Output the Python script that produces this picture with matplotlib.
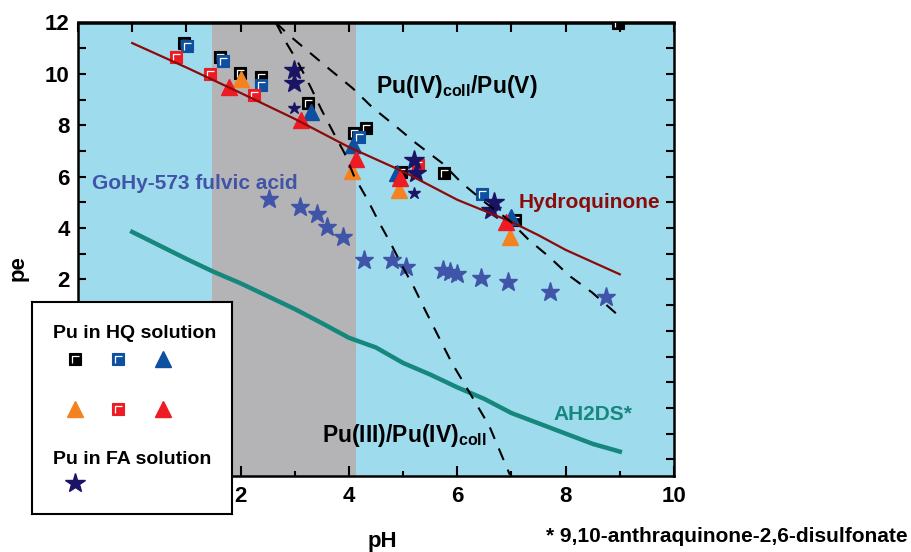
import numpy as np
import matplotlib.pyplot as plt
from matplotlib.path import Path
from matplotlib.ticker import MultipleLocator, FuncFormatter

plt.rcParams['font.family'] = ['Liberation Sans', 'DejaVu Sans']
plt.rcParams['font.weight'] = 'bold'
plt.rcParams['mathtext.fontset'] = 'custom'
plt.rcParams['mathtext.rm'] = 'Liberation Sans:bold'
plt.rcParams['mathtext.bf'] = 'Liberation Sans:bold'
plt.rcParams['mathtext.it'] = 'Liberation Sans:bold'

# --- DATA ---
# pH ranges of the background bands
blue_band = (-1.0, 10.0)
gray_band = (1.48, 4.13)

# redox lines
hq_x = [0, 1, 2, 3, 4, 5, 6, 7, 7.5, 8, 9]
hq_y = [11.2, 10.25, 9.26, 8.25, 7.15, 6.2, 5.1, 4.24, 3.72, 3.15, 2.2]

ah2ds_x = [0, 1, 1.5, 2, 2.5, 3, 3.5, 4, 4.5, 5, 5.5, 6, 6.5, 7, 7.5, 8, 8.5, 9]
ah2ds_y = [3.85, 2.8, 2.3, 1.85, 1.35, 0.85, 0.3, -0.27, -0.65, -1.25, -1.7,
           -2.2, -2.65, -3.2, -3.6, -4.0, -4.4, -4.7]

pu34_x = [2.65, 2.85, 3.07, 3.3, 3.49, 3.71, 3.92, 4.1, 4.34, 4.55, 4.77, 4.99,
          5.2, 5.42, 5.9, 6.31, 6.59, 6.97]
pu34_y = [12.0, 11.19, 10.41, 9.46, 8.62, 7.73, 6.91, 6.0, 5.12, 4.25, 3.41, 2.5,
          1.7, 0.75, -1.25, -2.7, -3.7, -5.6]

pu45_x = [2.65, 2.87, 3.27, 3.66, 4.07, 4.43, 4.87, 5.24, 5.72, 6.09, 6.53, 6.96,
          7.32, 7.69, 8.07, 8.49, 9.0]
pu45_y = [12.0, 11.55, 10.84, 10.15, 9.44, 8.7, 7.95, 7.3, 6.53, 5.74, 4.97, 4.3,
          3.54, 2.89, 2.14, 1.49, 0.55]

# Pu in HQ solution
black_sq_x = [0.95, 1.62, 1.99, 2.37, 3.25, 4.1, 4.31, 4.97, 5.76, 7.06, 8.97]
black_sq_y = [11.2, 10.65, 10.02, 9.89, 8.86, 7.69, 7.88, 6.2, 6.16, 4.31, 12.0]
blue_sq_x = [1.02, 1.67, 2.37, 4.19, 6.45]
blue_sq_y = [11.1, 10.5, 9.57, 7.56, 5.31]
blue_tri_x = [3.3, 4.07, 4.89, 7.0]
blue_tri_y = [8.5, 7.25, 6.13, 4.42]
orange_tri_x = [2.0, 4.05, 4.93, 6.98]
orange_tri_y = [9.8, 6.23, 5.48, 3.64]
red_sq_x = [0.8, 1.43, 2.25, 5.28]
red_sq_y = [10.65, 10.0, 9.18, 6.45]
red_tri_x = [1.79, 3.12, 4.13, 4.94, 6.9]
red_tri_y = [9.5, 8.2, 6.68, 5.94, 4.25]

# Pu in FA solution
fa_x = [2.99, 2.99, 5.2, 5.23, 6.67, 6.63]
fa_y = [10.15, 9.63, 6.65, 6.13, 5.03, 4.7]
fa_small_x = [2.99, 5.2]
fa_small_y = [8.68, 5.35]

# GoHy-573 fulvic acid
fulvic_x = [2.52, 3.1, 3.42, 3.6, 3.9, 4.28, 4.79, 5.06, 5.73, 5.86, 6.0, 6.43,
            6.94, 7.72, 8.74]
fulvic_y = [5.13, 4.83, 4.54, 4.06, 3.64, 2.76, 2.76, 2.5, 2.37, 2.28, 2.2, 2.07,
            1.89, 1.53, 1.31]

# --- COLOURS ---
c_blue_bg = '#9edbed'
c_gray_bg = '#b4b4b6'
c_hq = '#8c0a0a'
c_teal = '#16877d'
c_black = '#000000'
c_blue = '#0d50a0'
c_orange = '#f58220'
c_red = '#ed1c24'
c_navy = '#1b1464'
c_fulvic = '#4054a8'

# white corner mark drawn inside the squares
gamma = Path([(-0.5, -0.5), (-0.24, -0.34), (-0.24, 0.24), (0.34, 0.24)],
             [Path.MOVETO, Path.MOVETO, Path.LINETO, Path.LINETO])


def squares(ax, x, y, color, ms=8.5):
    ax.plot(x, y, 's', ms=ms, mfc=color, mec=color, mew=0.8, ls='none', zorder=4)
    ax.plot(x, y, marker=gamma, ms=ms, mfc='none', mec='white', mew=0.9,
            ls='none', zorder=4)


def triangles(ax, x, y, color, ms=12):
    ax.plot(x, y, '^', ms=ms, mfc=color, mec=color, ls='none', zorder=4)


def stars(ax, x, y, color, ms=12):
    ax.plot(x, y, '*', ms=ms, mfc=color, mec=color, ls='none', zorder=4)


fig = plt.figure(figsize=(9.12, 5.52), dpi=100)
ax = fig.add_axes([78 / 912, 1 - 476 / 552, 596 / 912, 453.5 / 552])

ax.axvspan(*blue_band, color=c_blue_bg, zorder=0, lw=0)
ax.axvspan(*gray_band, color=c_gray_bg, zorder=0, lw=0)

squares(ax, black_sq_x, black_sq_y, c_black)
squares(ax, blue_sq_x, blue_sq_y, c_blue)
squares(ax, red_sq_x, red_sq_y, c_red)
triangles(ax, blue_tri_x, blue_tri_y, c_blue)
triangles(ax, orange_tri_x, orange_tri_y, c_orange)
triangles(ax, red_tri_x, red_tri_y, c_red)
stars(ax, fa_x, fa_y, c_navy, ms=15)
stars(ax, fa_small_x, fa_small_y, c_navy, ms=9)
stars(ax, fulvic_x, fulvic_y, c_fulvic, ms=14)

ax.plot(hq_x, hq_y, color=c_hq, lw=1.6, zorder=5)
ax.plot(ah2ds_x, ah2ds_y, color=c_teal, lw=3.2, zorder=5)
ax.plot(pu34_x, pu34_y, color='black', lw=1.5, ls=(0, (6, 5)), zorder=5)
ax.plot(pu45_x, pu45_y, color='black', lw=1.5, ls=(0, (6, 5)), zorder=5)

ax.text(4.5, 9.26, r'$\mathbf{Pu(IV)_{coll}/Pu(V)}$', fontsize=16.5, color='black',
        va='baseline', zorder=6)
ax.text(3.5, -4.32, r'$\mathbf{Pu(III)/Pu(IV)_{coll}}$', fontsize=16.5, color='black',
        va='baseline', zorder=6)
ax.text(-0.74, 5.52, 'GoHy-573 fulvic acid', fontsize=15, color=c_fulvic,
        va='baseline', zorder=6)
ax.text(7.14, 4.78, 'Hydroquinone', fontsize=15, color=c_hq, va='baseline', zorder=6)
ax.text(7.77, -3.47, 'AH2DS*', fontsize=15, color=c_teal, va='baseline', zorder=6)

ax.set_xlim(-1, 10)
ax.set_ylim(-5.65, 12)
ax.xaxis.set_major_locator(MultipleLocator(2))
ax.xaxis.set_minor_locator(MultipleLocator(1))
ax.yaxis.set_major_locator(MultipleLocator(2))
ax.yaxis.set_minor_locator(MultipleLocator(1))
# labels below the legend box are covered in the original
ax.xaxis.set_major_formatter(FuncFormatter(lambda v, p: '' if v < 1 else f'{v:g}'))
ax.yaxis.set_major_formatter(FuncFormatter(lambda v, p: '' if v < 1 else f'{v:g}'))
ax.tick_params(axis='both', which='both', direction='in', width=1.5, labelsize=16)
ax.tick_params(axis='x', which='major', length=7, top=False, pad=7)
ax.tick_params(axis='x', which='minor', length=3.5, top=False)
ax.tick_params(axis='y', which='both', length=6, right=True, pad=6)
for lbl in ax.get_xticklabels() + ax.get_yticklabels():
    lbl.set_fontweight('bold')
for sp in ax.spines.values():
    sp.set_linewidth(1.8)

top = ax.secondary_xaxis('top')
top.xaxis.set_major_locator(MultipleLocator(1))
top.tick_params(direction='in', length=7, width=1.5, labeltop=False)
top.spines['top'].set_linewidth(1.8)

fig.text(18 / 912, 1 - 268 / 552, 'pe', rotation=90, fontsize=16,
         ha='center', va='center')
fig.text(382 / 912, 1 - 541 / 552, 'pH', fontsize=16, ha='center', va='center')
fig.text(908 / 912, 1 - 536 / 552, '* 9,10-anthraquinone-2,6-disulfonate',
         fontsize=15, ha='right', va='center')

# legend box
leg = fig.add_axes([32 / 912, 1 - 514 / 552, 200 / 912, 212 / 552], zorder=10)
leg.set_xlim(0, 200)
leg.set_ylim(212, 0)
leg.set_xticks([])
leg.set_yticks([])
leg.set_facecolor('white')
for sp in leg.spines.values():
    sp.set_linewidth(1.5)
leg.text(21, 31, 'Pu in HQ solution', fontsize=14, va='center')
leg.text(21, 157, 'Pu in FA solution', fontsize=14, va='center')
squares(leg, [43], [57], c_black, ms=9)
squares(leg, [86], [57], c_blue, ms=9)
triangles(leg, [131], [57], c_blue)
triangles(leg, [43], [107], c_orange)
squares(leg, [86], [107], c_red, ms=9)
triangles(leg, [131], [107], c_red)
stars(leg, [43], [181], c_navy, ms=15)

fig.savefig('out.png', dpi=100)
